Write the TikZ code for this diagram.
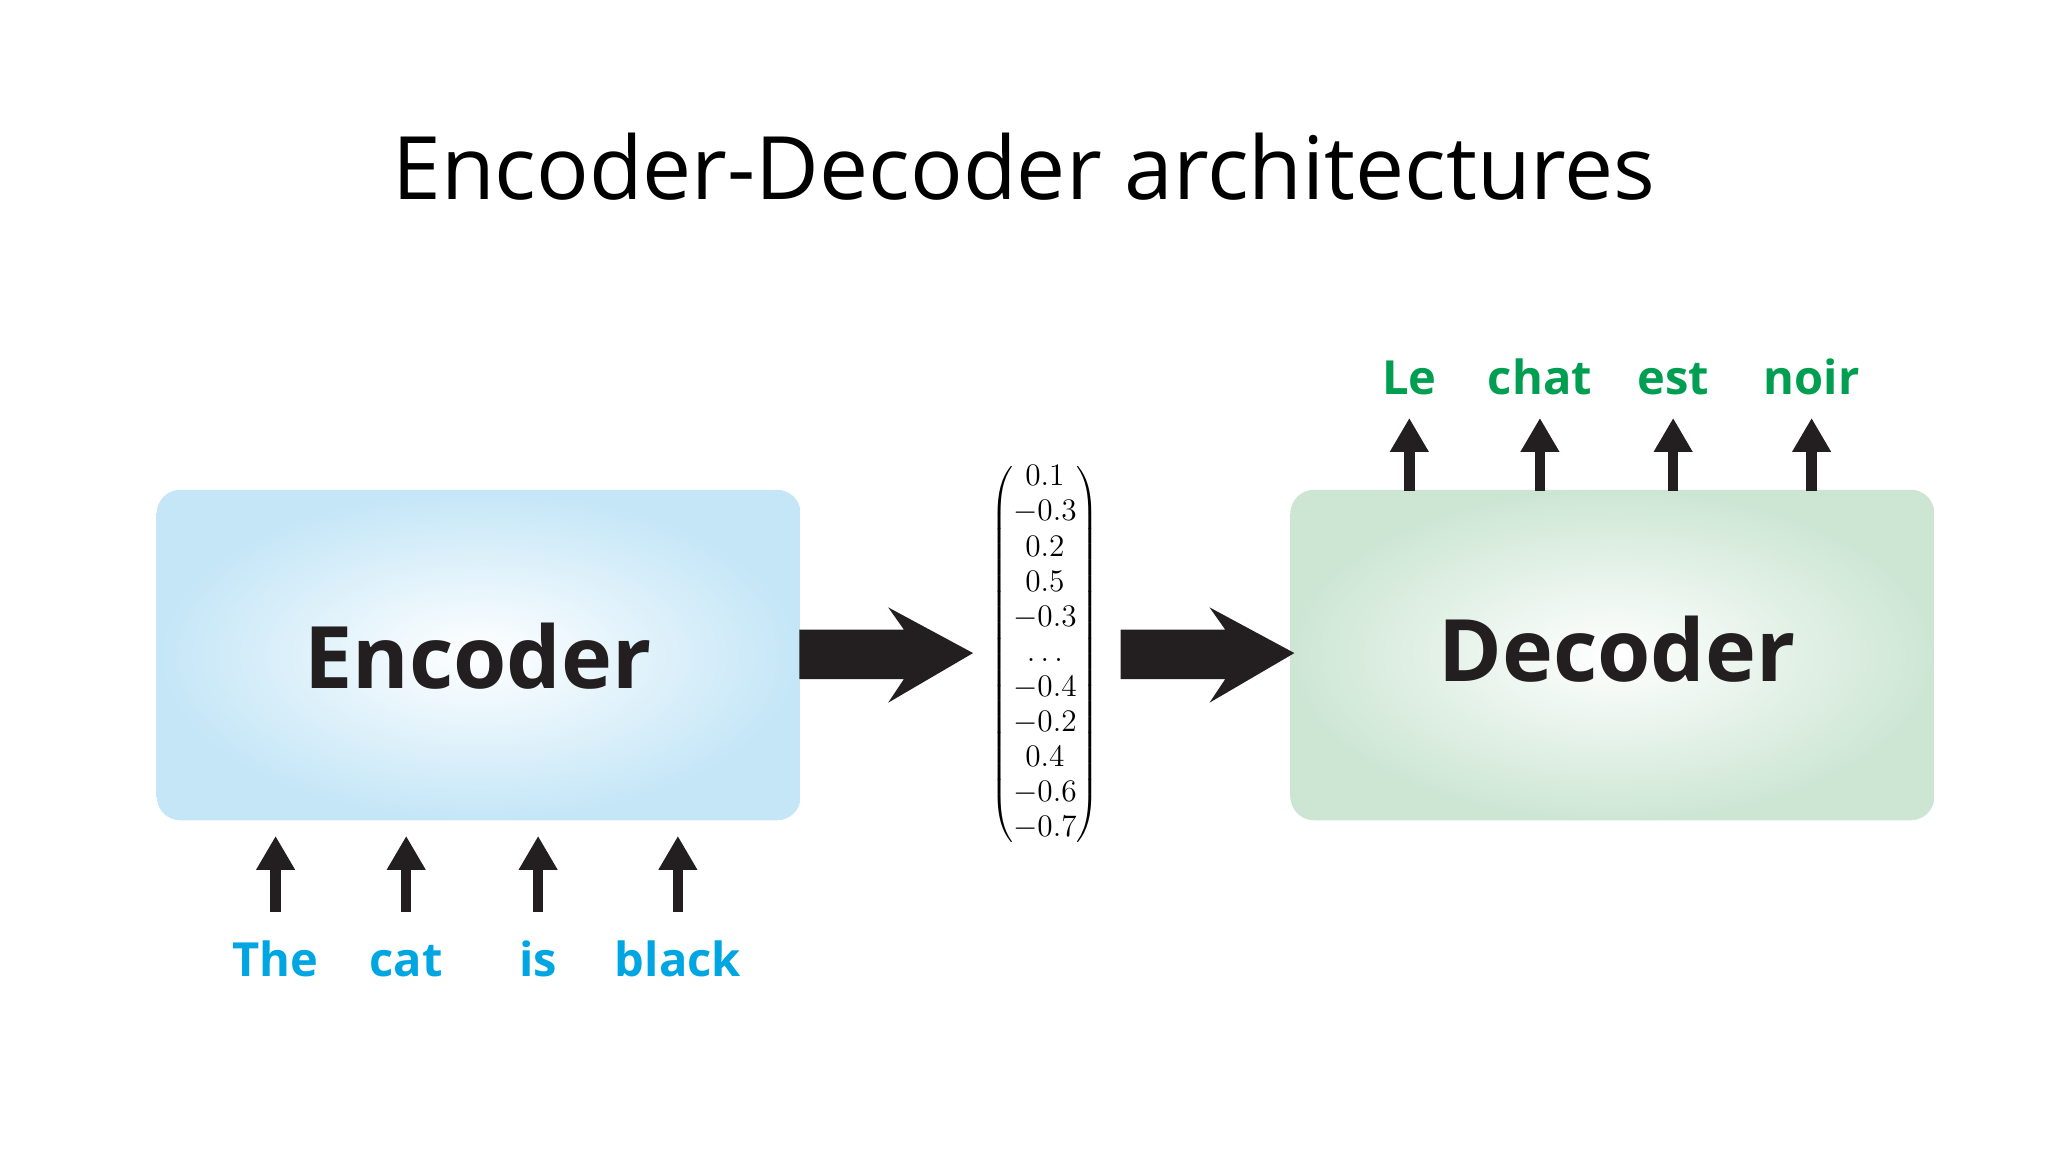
\documentclass[tikz,border=0pt]{standalone}
\usepackage{fontspec}
\setmainfont{Open Sans}
\newfontfamily\serifnum{Latin Modern Roman}
\usetikzlibrary{arrows.meta}
\definecolor{encblue}{RGB}{196,230,247}
\definecolor{decgreen}{RGB}{205,230,212}
\definecolor{inblue}{RGB}{0,166,226}
\definecolor{outgreen}{RGB}{0,158,80}
\definecolor{ink}{RGB}{35,31,32}
\begin{document}
\begin{tikzpicture}[x=0.5pt,y=-0.5pt,
  box/.style={rounded corners=9pt,shading=radial,inner color=white},
  word/.style={font=\fontsize{18}{22}\selectfont\bfseries,anchor=base},
  up/.style={draw=ink,line width=4pt,-{Triangle[length=13pt,width=14pt]}},
  big/.style={fill=ink}]
\useasboundingbox (0,0) rectangle (1568,882);
\fill[white] (0,0) rectangle (1568,882);
\node (title) at (784,128) {\fontsize{33.5}{40}\selectfont Encoder-Decoder architectures};
\shade[box,outer color=encblue] (120,375) rectangle (613,628);
\node (enc) at (366,502) {\fontsize{33}{40}\selectfont\bfseries\color{ink}Encoder};
\shade[box,outer color=decgreen] (988,375) rectangle (1481,628);
\node (dec) at (1238,497) {\fontsize{33}{40}\selectfont\bfseries\color{ink}Decoder};
% vector
\node[inner sep=0pt] (vec) at (800,501) {\fontsize{11.5}{12}\selectfont$\renewcommand\arraystretch{1.12}\left(\begin{array}{@{}c@{}}0.1\\-0.3\\0.2\\0.5\\-0.3\\\ldots\\-0.4\\-0.2\\0.4\\-0.6\\-0.7\end{array}\right)$};
% big arrows
\fill[big] (612,482) -- (692,482) -- (680,465) -- (745,500) -- (680,538) -- (692,520) -- (612,520) -- cycle;
\fill[big] (858,482) -- (938,482) -- (926,465) -- (991,500) -- (926,538) -- (938,520) -- (858,520) -- cycle;
% inputs
\foreach \n/\x/\w in {i1/211/The,i2/311/cat,i3/412/is,i4/519/black}{
  \node[word,text=inblue] (\n) at (\x,748) {\w};
  \coordinate (\n t) at (\x,640);
  \draw[up] (\x,698) -- (\n t);
}
% outputs
\foreach \n/\x/\w in {o1/1079/Le,o2/1179/chat,o3/1281/est,o4/1387/noir}{
  \node[word,text=outgreen] (\n) at (\x,302) {\w};
  \coordinate (\n b) at (\x,376);
  \draw[up] (\n b) -- (\x,320);
}
\end{tikzpicture}
\end{document}
